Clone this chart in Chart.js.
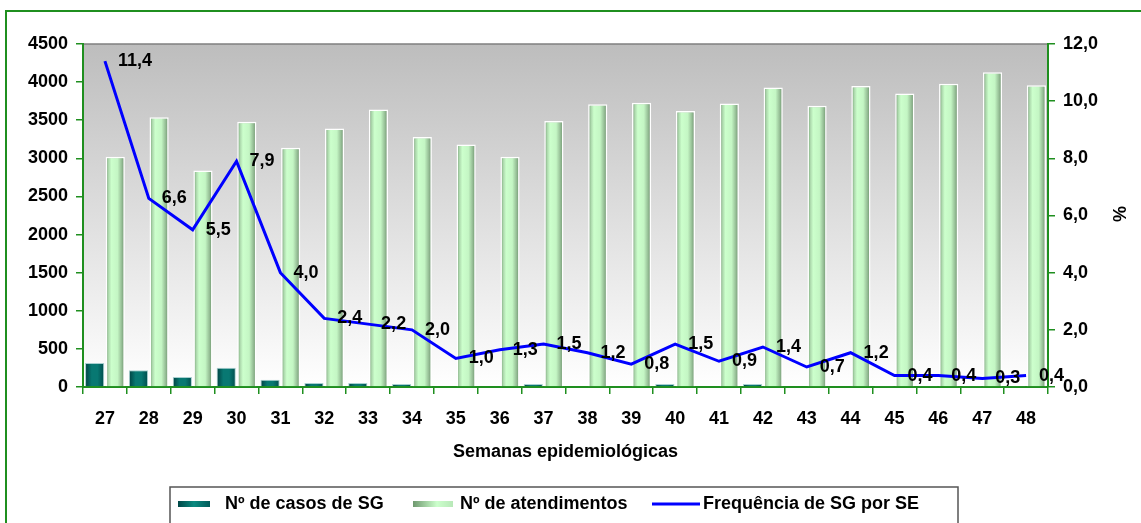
<!DOCTYPE html>
<html>
<head>
<meta charset="utf-8">
<script src="https://cdn.jsdelivr.net/npm/chart.js@4.4.1/dist/chart.umd.min.js"></script>
<style>
  html, body { margin: 0; padding: 0; background: #fff; }
  #wrap { width: 1141px; height: 523px; position: relative; }
</style>
</head>
<body>
<div id="wrap"><canvas id="chart"></canvas></div>
<script>
const semanas = ["27","28","29","30","31","32","33","34","35","36","37","38","39","40","41","42","43","44","45","46","47","48"];
const casosSG = [315, 219, 131, 254, 96, 52, 52, 39, 10, 10, 39, 10, 10, 39, 10, 39, 10, 10, 8, 8, 8, 8];
const atendimentos = [3020, 3540, 2840, 3480, 3140, 3390, 3640, 3280, 3180, 3020, 3490, 3710, 3730, 3620, 3720, 3930, 3690, 3950, 3850, 3980, 4130, 3960];
const frequencia = [11.4, 6.6, 5.5, 7.9, 4.0, 2.4, 2.2, 2.0, 1.0, 1.3, 1.5, 1.2, 0.8, 1.5, 0.9, 1.4, 0.7, 1.2, 0.4, 0.4, 0.3, 0.4];
const leftTicks = [0, 4500, 500];
const rightTicks = [0, 12, 2];

const FONT = "'Liberation Sans', Arial, sans-serif";
const GREEN = "#1f8f1f";

function comma(v) {
  return Number(v).toFixed(1).replace(".", ",");
}

// horizontal gradient across each bar, like the cylinder look of the original
function barGradient(stops, fallback) {
  return function (context) {
    const el = context.element;
    if (!el || el.x == null || !el.width) return fallback;
    const c = context.chart.ctx;
    const g = c.createLinearGradient(el.x - el.width / 2, 0, el.x + el.width / 2, 0);
    stops.forEach(s => g.addColorStop(s[0], s[1]));
    return g;
  };
}

const decor = {
  id: "decor",
  beforeDraw(chart) {
    const c = chart.ctx;
    const a = chart.chartArea;
    c.save();
    c.fillStyle = "#fff";
    c.fillRect(0, 0, chart.width, chart.height);
    // outer frame
    c.strokeStyle = GREEN;
    c.lineWidth = 2;
    c.strokeRect(6, 11, chart.width + 10, chart.height + 10);
    // plot background
    const g = c.createLinearGradient(0, a.top, 0, a.bottom);
    g.addColorStop(0, "#bdbdbd");
    g.addColorStop(1, "#ffffff");
    c.fillStyle = g;
    c.fillRect(a.left, a.top, a.right - a.left, a.bottom - a.top);
    c.strokeStyle = "#7f7f7f";
    c.lineWidth = 1.5;
    c.beginPath();
    c.moveTo(a.left, a.top);
    c.lineTo(a.right, a.top);
    c.stroke();
    c.restore();
  },
  afterDraw(chart) {
    const c = chart.ctx;
    const a = chart.chartArea;
    c.save();
    // value labels beside the line points
    const meta = chart.getDatasetMeta(2);
    c.fillStyle = "#000";
    c.font = "bold 18px " + FONT;
    c.textAlign = "left";
    c.textBaseline = "middle";
    meta.data.forEach((pt, i) => {
      c.fillText(comma(frequencia[i]), pt.x + 13, pt.y);
    });
    // x axis title
    c.font = "bold 18px " + FONT;
    c.textAlign = "center";
    c.fillText("Semanas epidemiológicas", (a.left + a.right) / 2, 452);
    // right axis title
    c.save();
    c.translate(1121, 214);
    c.rotate(-Math.PI / 2);
    c.fillText("%", 0, 0);
    c.restore();
    // legend box
    c.strokeStyle = "#555";
    c.lineWidth = 1.5;
    c.strokeRect(170, 487, 788, 45);
    const ly = 504;
    let g = c.createLinearGradient(178, 0, 210, 0);
    g.addColorStop(0, "#004848");
    g.addColorStop(0.5, "#0b8a80");
    g.addColorStop(1, "#005a5a");
    c.fillStyle = g;
    c.fillRect(178, ly - 3, 32, 6);
    g = c.createLinearGradient(413, 0, 453, 0);
    g.addColorStop(0, "#6f986f");
    g.addColorStop(0.6, "#ccffcc");
    g.addColorStop(1, "#b8e8b8");
    c.fillStyle = g;
    c.fillRect(413, ly - 3, 40, 6);
    c.strokeStyle = "#0000ff";
    c.lineWidth = 3;
    c.beginPath();
    c.moveTo(652, ly);
    c.lineTo(700, ly);
    c.stroke();
    c.fillStyle = "#000";
    c.font = "bold 18px " + FONT;
    c.textAlign = "left";
    c.fillText(chart.data.datasets[0].label, 225, ly);
    c.fillText(chart.data.datasets[1].label, 460, ly);
    c.fillText(chart.data.datasets[2].label, 703, ly);
    c.restore();
  }
};

const chart = new Chart(document.getElementById("chart"), {
  type: "bar",
  data: {
    labels: semanas,
    datasets: [
      {
        label: "Nº de casos de SG",
        data: casosSG,
        yAxisID: "y",
        order: 2,
        backgroundColor: barGradient([[0, "#004040"], [0.35, "#087872"], [0.65, "#087872"], [1, "#004c4c"]], "#006666"),
        borderColor: "#a8d0d0",
        borderWidth: 1,
        borderSkipped: "bottom",
        categoryPercentage: 0.94,
        barPercentage: 0.93
      },
      {
        label: "Nº de atendimentos",
        data: atendimentos,
        yAxisID: "y",
        order: 2,
        backgroundColor: barGradient([[0, "#6a946a"], [0.15, "#acd8ac"], [0.3, "#ccffcc"], [0.62, "#c4f6c4"], [0.84, "#94bc94"], [1, "#668c66"]], "#ccffcc"),
        borderColor: "#ffffff",
        borderWidth: 1.5,
        borderSkipped: "bottom",
        categoryPercentage: 0.94,
        barPercentage: 0.93
      },
      {
        type: "line",
        label: "Frequência de SG por SE",
        data: frequencia,
        yAxisID: "y1",
        order: 1,
        borderColor: "#0000ff",
        borderWidth: 3,
        pointRadius: 0,
        tension: 0,
        fill: false
      }
    ]
  },
  options: {
    responsive: true,
    maintainAspectRatio: false,
    animation: false,
    layout: { padding: { top: 44, left: 0, right: 0, bottom: 0 } },
    plugins: {
      legend: { display: false },
      tooltip: { enabled: false }
    },
    scales: {
      x: {
        afterFit: s => { s.height = 136; },
        grid: { drawOnChartArea: false, color: GREEN, tickLength: 7, lineWidth: 1.5 },
        border: { color: GREEN, width: 2 },
        ticks: { color: "#000", font: { family: FONT, size: 18, weight: "bold" }, padding: 14, maxRotation: 0, autoSkip: false }
      },
      y: {
        position: "left",
        min: leftTicks[0],
        max: leftTicks[1],
        afterFit: s => { s.width = 83; },
        grid: { drawOnChartArea: false, color: GREEN, tickLength: 7, lineWidth: 1.5 },
        border: { color: GREEN, width: 2 },
        ticks: { stepSize: leftTicks[2], color: "#000", font: { family: FONT, size: 18, weight: "bold" }, padding: 8, callback: v => String(v) }
      },
      y1: {
        position: "right",
        min: rightTicks[0],
        max: rightTicks[1],
        afterFit: s => { s.width = 93; },
        grid: { drawOnChartArea: false, color: GREEN, tickLength: 7, lineWidth: 1.5 },
        border: { color: GREEN, width: 2 },
        ticks: { stepSize: rightTicks[2], color: "#000", font: { family: FONT, size: 18, weight: "bold" }, padding: 8, callback: v => comma(v) }
      }
    }
  },
  plugins: [decor]
});
// second pass so the bar gradients can use the laid-out bar positions
chart.update("none");
</script>
</body>
</html>
